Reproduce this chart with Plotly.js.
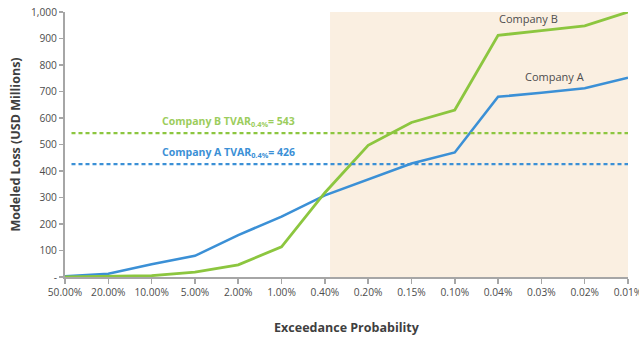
<!DOCTYPE html>
<html>
<head>
<meta charset="utf-8">
<script src="https://cdn.plot.ly/plotly-3.0.1.min.js"></script>
<style>
  html, body { margin: 0; padding: 0; background: #fff; }
  #chart { width: 639px; height: 341px; }
</style>
</head>
<body>
<div id="chart"></div>
<script>
// Return periods expressed as annual exceedance probability
const probabilities = ['50.00%', '20.00%', '10.00%', '5.00%', '2.00%', '1.00%', '0.40%',
                       '0.20%', '0.15%', '0.10%', '0.04%', '0.03%', '0.02%', '0.01%'];

// Modeled loss, USD millions
const companyA = [3, 12, 48, 80, 158, 228, 308, 368, 428, 470, 680, 695, 712, 752];
const companyB = [0, 2, 5, 18, 46, 114, 318, 497, 583, 630, 912, 930, 948, 1000];

// Tail value at risk at the 0.4% level
const tvarA = 426;
const tvarB = 543;
const tvarLevel = '0.4%';

const yTickVals = [0, 100, 200, 300, 400, 500, 600, 700, 800, 900, 1000];
const yTickText = ['-', '100', '200', '300', '400', '500', '600', '700', '800', '900', '1,000'];

const blue = '#3b90d6';
const green = '#8cc63f';
const family = 'Open Sans, Noto Sans, sans-serif';
const tickFont = { family: family, size: 10.2, color: '#4d4d4d' };
const titleFont = { family: family, size: 12.5, color: '#3f3f3f' };

const traces = [
  {
    x: probabilities, y: companyA, name: 'Company A', type: 'scatter', mode: 'lines',
    line: { color: blue, width: 2.6 }, cliponaxis: false
  },
  {
    x: probabilities, y: companyB, name: 'Company B', type: 'scatter', mode: 'lines',
    line: { color: green, width: 2.8 }, cliponaxis: false
  }
];

const lastIdx = probabilities.length - 1;
const tailStart = probabilities.indexOf('0.40%') + 0.12;

const layout = {
  width: 639, height: 341,
  margin: { l: 65, r: 11, t: 12, b: 64 },
  paper_bgcolor: '#ffffff',
  plot_bgcolor: 'rgba(0,0,0,0)',
  showlegend: false,
  font: tickFont,
  xaxis: {
    type: 'category',
    range: [0, lastIdx],
    showgrid: false, zeroline: false,
    showline: true, linecolor: '#a6a6a6', linewidth: 2,
    ticks: 'outside', ticklen: 5, tickwidth: 1.5, tickcolor: '#a6a6a6',
    tickfont: tickFont,
    title: { text: '<b>Exceedance Probability</b>', standoff: 25, font: titleFont }
  },
  yaxis: {
    range: [0, 1000],
    tickvals: yTickVals, ticktext: yTickText,
    showgrid: false, zeroline: false,
    showline: true, linecolor: '#a6a6a6', linewidth: 2,
    ticks: 'outside', ticklen: 4, tickwidth: 1.5, tickcolor: '#a6a6a6',
    tickfont: tickFont,
    title: { text: '<b>Modeled Loss (USD Millions)</b>', standoff: 8, font: titleFont }
  },
  shapes: [
    // shaded tail region
    { type: 'rect', xref: 'x', yref: 'paper', x0: tailStart, x1: lastIdx, y0: 0, y1: 1,
      fillcolor: '#faefe1', line: { width: 0 }, layer: 'below' },
    { type: 'line', xref: 'x', yref: 'y', x0: 0.15, x1: lastIdx, y0: tvarB, y1: tvarB,
      line: { color: green, width: 2.2, dash: '4px,3px' } },
    { type: 'line', xref: 'x', yref: 'y', x0: 0.15, x1: lastIdx, y0: tvarA, y1: tvarA,
      line: { color: blue, width: 2.2, dash: '4px,3px' } }
  ],
  annotations: [
    { xref: 'x', yref: 'y', x: 2.2, y: tvarB, xanchor: 'left', yanchor: 'bottom', yshift: 2,
      text: '<b>Company B TVAR<sub>' + tvarLevel + '</sub>= ' + tvarB + '</b>', showarrow: false,
      font: { family: family, size: 10.5, color: '#9ccd5c' } },
    { xref: 'x', yref: 'y', x: 2.2, y: tvarA, xanchor: 'left', yanchor: 'bottom', yshift: 2,
      text: '<b>Company A TVAR<sub>' + tvarLevel + '</sub>= ' + tvarA + '</b>', showarrow: false,
      font: { family: family, size: 10.5, color: '#3b90d6' } },
    { xref: 'x', yref: 'y', x: 10.7, y: 975, xanchor: 'center', yanchor: 'middle',
      text: 'Company B', showarrow: false,
      font: { family: family, size: 11, color: '#4d4d4d' } },
    { xref: 'x', yref: 'y', x: 11.3, y: 755, xanchor: 'center', yanchor: 'middle',
      text: 'Company A', showarrow: false,
      font: { family: family, size: 11, color: '#4d4d4d' } }
  ]
};

Plotly.newPlot('chart', traces, layout, { staticPlot: true, displayModeBar: false });
</script>
</body>
</html>
